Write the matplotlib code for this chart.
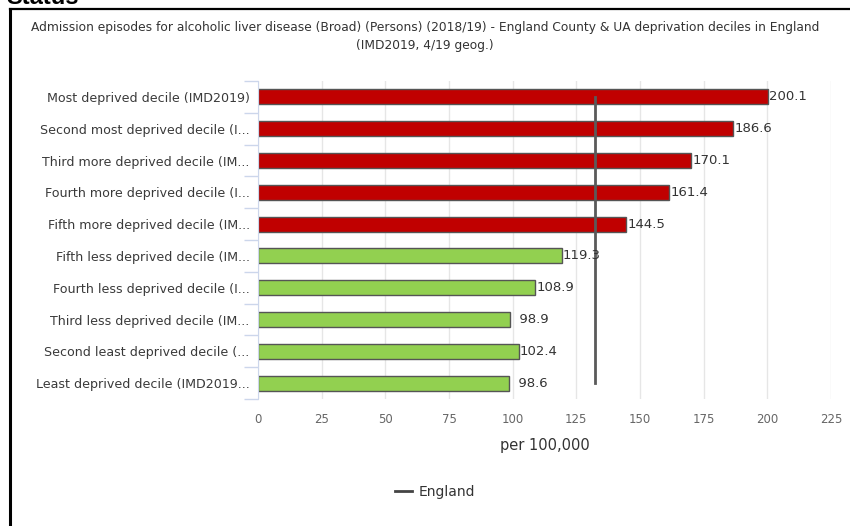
import matplotlib.pyplot as plt
from matplotlib.lines import Line2D
import numpy as np

# data
categories = [
    "Most deprived decile (IMD2019)",
    "Second most deprived decile (I...",
    "Third more deprived decile (IM...",
    "Fourth more deprived decile (I...",
    "Fifth more deprived decile (IM...",
    "Fifth less deprived decile (IM...",
    "Fourth less deprived decile (I...",
    "Third less deprived decile (IM...",
    "Second least deprived decile (...",
    "Least deprived decile (IMD2019...",
]
values = [200.1, 186.6, 170.1, 161.4, 144.5, 119.3, 108.9, 98.9, 102.4, 98.6]
worse = [True, True, True, True, True, False, False, False, False, False]
england = 132.3
x_ticks = [0, 25, 50, 75, 100, 125, 150, 175, 200, 225]

RED = "#C00000"
GREEN = "#92D050"

plt.rcParams["font.family"] = ["DejaVu Sans"]

fig = plt.figure(figsize=(8.5, 5.26), dpi=100)
ax = fig.add_axes([0.3035, 0.2414, 0.6741, 0.6046])

y = np.arange(len(categories))
colors = [RED if w else GREEN for w in worse]
ax.barh(y, values, height=0.47, color=colors, edgecolor="#555555",
        linewidth=1.0, zorder=2)

# England benchmark as a line through the categories
ax.plot([england] * len(categories), y, color="#5a5a5a", linewidth=2.0,
        zorder=3, label="England")

for yi, v in zip(y, values):
    txt = f"{v:.1f}"
    if len(txt) < 5:
        txt = "\u2007" + txt
    ax.text(v + 0.5, yi, txt, va="center", ha="left", fontsize=9.5,
            color="#333333", zorder=4)

ax.set_ylim(len(categories) - 0.5, -0.5)
ax.set_xlim(0, 225)
ax.set_xticks(x_ticks)
ax.set_yticks(y)
ax.set_yticklabels(categories, fontsize=9.1, color="#3a3a3a")
ax.set_yticks(np.arange(len(categories) + 1) - 0.5, minor=True)
ax.tick_params(axis="y", which="major", length=0, pad=6)
ax.tick_params(axis="y", which="minor", length=10, color="#ccd6eb", width=1)
ax.tick_params(axis="x", length=0, labelsize=8.5, labelcolor="#666666", pad=10)
ax.grid(axis="x", color="#e6e6e6", linewidth=1, zorder=0)
for s in ["top", "right", "bottom"]:
    ax.spines[s].set_visible(False)
ax.spines["left"].set_color("#ccd6eb")
ax.spines["left"].set_zorder(5)
ax.set_xlabel("per 100,000", fontsize=10.5, color="#333333", labelpad=9)

fig.legend(handles=[Line2D([0], [0], color="#444444", linewidth=2)],
           labels=["England"], loc="center", bbox_to_anchor=(0.512, 0.064),
           frameon=False, fontsize=10, handlelength=1.2, handletextpad=0.5,
           labelcolor="#333333")

fig.text(0.5, 1 - 36.5 / 526,
         "Admission episodes for alcoholic liver disease (Broad) (Persons) (2018/19) - England County & UA deprivation deciles in England\n(IMD2019, 4/19 geog.)",
         ha="center", va="center", fontsize=8.8, color="#333333", linespacing=1.42)

# cropped page frame and heading
fig.add_artist(Line2D([10 / 850, 10 / 850], [0, 1 - 9 / 526], color="black",
                      linewidth=2.2, transform=fig.transFigure))
fig.add_artist(Line2D([10 / 850, 1], [1 - 9 / 526, 1 - 9 / 526], color="black",
                      linewidth=1.6, transform=fig.transFigure))
fig.text(6 / 850, 1 - 4.5 / 526, "Status", fontsize=17, fontweight="bold",
         family="Liberation Sans", va="baseline", ha="left", color="black")

fig.savefig("out.png", dpi=100, facecolor="white")
